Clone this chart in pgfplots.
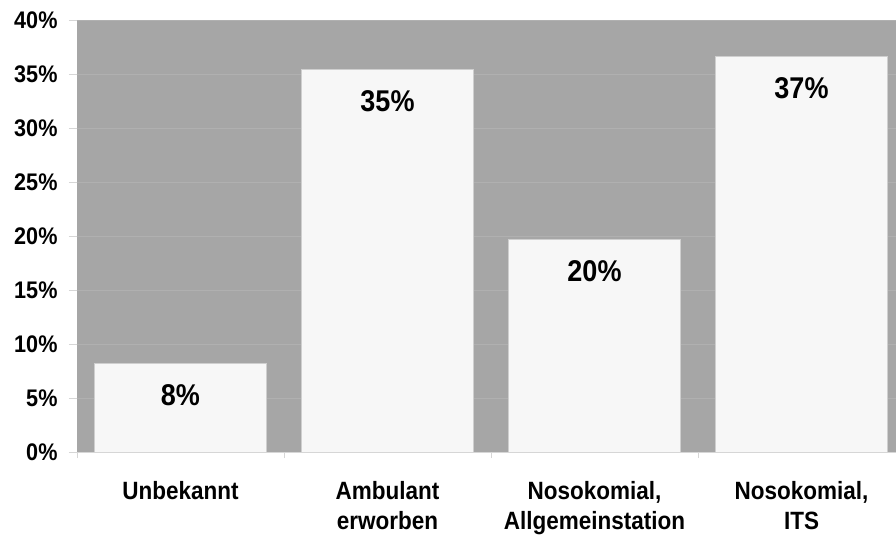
\documentclass[border=0pt]{standalone}
\usepackage{fontspec}
\setmainfont{Liberation Sans}[FakeStretch=0.9]
\usepackage{pgfplots}
\pgfplotsset{compat=1.18}

\definecolor{plotbg}{HTML}{A6A6A6}
\definecolor{barfill}{HTML}{F7F7F7}
\definecolor{baredge}{HTML}{CFCFCF}
\definecolor{gridc}{HTML}{B0B0B0}
\definecolor{axisc}{HTML}{D6D6D6}

\begin{document}
\begin{tikzpicture}
\begin{axis}[
  name=ax,
  scale only axis,
  width=828pt, height=432pt,
  xmin=-0.5, xmax=3.5,
  ymin=0, ymax=40,
  axis background/.style={fill=plotbg},
  axis x line*=bottom,
  axis y line*=left,
  x axis line style={draw=axisc, line width=0.8pt, -},
  y axis line style={draw=none},
  tick align=outside,
  tick style={draw=axisc, line width=0.8pt},
  ytick={0,5,...,40},
  yticklabels={0\%,5\%,10\%,15\%,20\%,25\%,30\%,35\%,40\%},
  major tick length=8pt,
  minor tick length=6pt,
  yticklabel style={font=\fontsize{24}{28}\selectfont\bfseries, xshift=-8pt},
  xtick={0,1,2,3},
  xticklabels={Unbekannt, {Ambulant\\erworben}, {Nosokomial,\\Allgemeinstation}, {Nosokomial,\\ITS}},
  x tick style={draw=none},
  minor xtick={-0.5,0.5,1.5,2.5,3.5},
  minor x tick style={draw=axisc, line width=0.8pt},
  xticklabel style={font=\fontsize{25}{30}\selectfont\bfseries, align=center, yshift=-18pt},
  ymajorgrids,
  major grid style={draw=gridc, line width=0.8pt},
  ybar,
  bar width=172pt,
  bar shift=0pt,
  /pgf/number format/assume math mode=true,
  nodes near coords={\pgfmathprintnumber[fixed,precision=0]{\pgfplotspointmeta}\%},
  every node near coord/.append style={font=\fontsize{30}{32}\selectfont\bfseries, anchor=base, yshift=-42pt},
]
\addplot[fill=barfill, draw=baredge, line width=0.6pt] coordinates {
  (0, 8.2)
  (1, 35.4)
  (2, 19.7)
  (3, 36.6)
};
\end{axis}
\pgfresetboundingbox
\path[use as bounding box] ([xshift=-77pt,yshift=-85pt]ax.south west) rectangle ([xshift=819pt,yshift=20pt]ax.north west);
\end{tikzpicture}
\end{document}
